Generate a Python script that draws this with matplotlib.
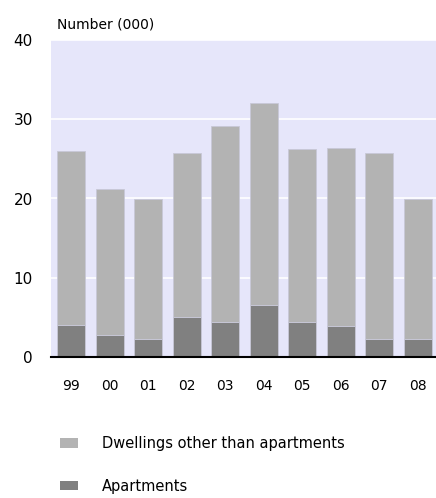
import numpy as np
import matplotlib.pyplot as plt
from matplotlib.patches import Patch

# ----------------------------
# Data (thousands of dwellings)
# ----------------------------
years = ["99", "00", "01", "02", "03", "04", "05", "06", "07", "08"]
apartments = [4.1, 2.8, 2.3, 5.1, 4.4, 6.6, 4.4, 3.9, 2.3, 2.3]
other = [21.9, 18.4, 17.7, 20.6, 24.8, 25.4, 21.8, 22.5, 23.4, 17.7]

C_BG = "#e6e6fa"
C_OTHER = "#b3b3b3"
C_APT = "#808080"

fig = plt.figure(figsize=(4.36, 4.98), dpi=100)
ax = fig.add_axes([51 / 436, 1 - 357 / 498, 1 - 51 / 436, 317 / 498])
ax.set_facecolor(C_BG)

x = np.arange(len(years))
ax.bar(x, apartments, width=0.73, color=C_APT, edgecolor="#c8c8d8", linewidth=0.6, zorder=3)
ax.bar(x, other, width=0.73, bottom=apartments, color=C_OTHER, edgecolor="#c8c8d8",
       linewidth=0.6, zorder=3)

ax.set_ylim(0, 40)
ax.set_xlim(-0.52, 9.47)
ax.set_yticks([0, 10, 20, 30, 40])
ax.set_xticks(x)
ax.set_xticklabels(years)
ax.yaxis.grid(True, color="white", linewidth=1.2, zorder=1)
ax.set_axisbelow(True)
for s in ["top", "right", "left"]:
    ax.spines[s].set_visible(False)
ax.spines["bottom"].set_color("black")
ax.spines["bottom"].set_linewidth(1.5)
ax.spines["bottom"].set_zorder(4)
ax.tick_params(length=0)
ax.tick_params(axis="y", labelsize=11, pad=13)
ax.tick_params(axis="x", labelsize=10, pad=16)

fig.text(57 / 436, 1 - 24 / 498, "Number (000)", fontsize=10, va="center", ha="left")

handles = [Patch(facecolor=C_OTHER, edgecolor="none"), Patch(facecolor=C_APT, edgecolor="none")]
fig.legend(handles, ["Dwellings other than apartments", "Apartments"],
           loc="upper left", bbox_to_anchor=(50 / 436, 1 - 426 / 498), frameon=False,
           fontsize=10.5, handlelength=1.25, handleheight=0.6, handletextpad=1.6,
           labelspacing=1.9, borderpad=0.2)

fig.savefig("out.png", dpi=100)
